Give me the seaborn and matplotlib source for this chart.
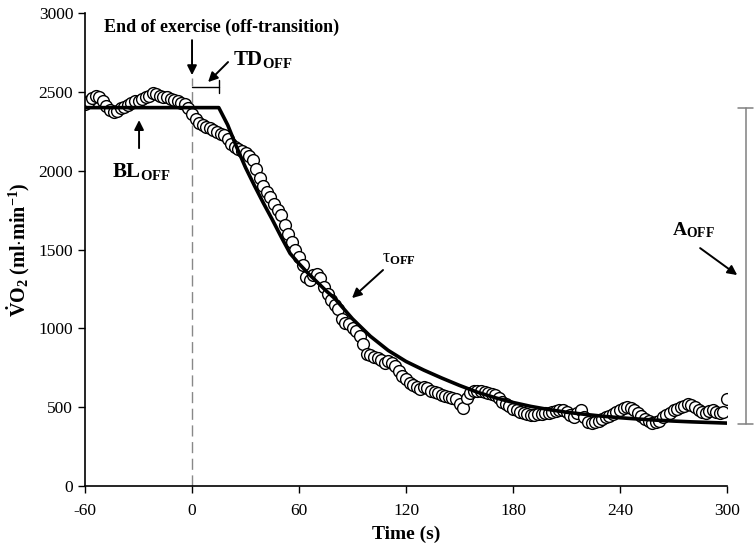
import numpy as np
import pandas as pd
import matplotlib
matplotlib.use('Agg')
import matplotlib.pyplot as plt
import seaborn as sns

# VO2 off-kinetics: breath values (every 2 s)
time_s = list(range(-60, 301, 2))
vo2 = [2425, 2440, 2460, 2475, 2465, 2440, 2410, 2385, 2375, 2380,
       2395, 2405, 2415, 2430, 2440, 2445, 2455, 2465, 2475, 2490,
       2485, 2475, 2470, 2465, 2455, 2450, 2440, 2430, 2420, 2395,
       2360, 2330, 2305, 2290, 2280, 2270, 2255, 2245, 2235, 2225,
       2200, 2170, 2150, 2140, 2125, 2110, 2095, 2070, 2010, 1955,
       1905, 1865, 1830, 1790, 1750, 1720, 1655, 1600, 1545, 1495,
       1455, 1405, 1325, 1305, 1340, 1345, 1320, 1260, 1215, 1180,
       1150, 1120, 1060, 1035, 1030, 1000, 985, 950, 900, 840,
       830, 820, 815, 800, 780, 790, 780, 760, 730, 700,
       680, 655, 640, 630, 615, 625, 620, 605, 595, 590,
       580, 570, 565, 560, 555, 520, 495, 560, 590, 605,
       605, 600, 595, 590, 585, 580, 560, 530, 520, 505,
       490, 480, 470, 460, 455, 450, 450, 455, 455, 460,
       465, 470, 475, 480, 485, 470, 450, 440, 460, 480,
       440, 405, 400, 405, 410, 425, 440, 445, 455, 470,
       485, 495, 500, 495, 480, 465, 445, 425, 410, 400,
       405, 415, 435, 450, 465, 480, 490, 500, 510, 520,
       515, 500, 485, 470, 465, 475, 480, 470, 460, 470,
       555]

# fitted model curve
fit_t = [-60, 15, 20, 25, 30, 35, 40, 45, 50, 55, 60, 65, 70, 75, 80, 90,
         100, 110, 120, 130, 140, 150, 160, 170, 180, 190, 200, 210, 220,
         230, 240, 250, 260, 270, 280, 290, 300]
fit_vo2 = [2400, 2400, 2290, 2150, 2020, 1905, 1795, 1690, 1580, 1475, 1410,
           1350, 1295, 1240, 1190, 1060, 950, 860, 790, 735, 685, 638, 595,
           560, 530, 505, 485, 468, 455, 443, 433, 425, 418, 412, 407, 403, 399]

df = pd.DataFrame({'t': time_s, 'vo2': vo2})
fit = pd.DataFrame({'t': fit_t, 'vo2': fit_vo2})

sns.set_style('ticks')
plt.rcParams['font.family'] = ['Liberation Serif', 'DejaVu Serif']
plt.rcParams['mathtext.fontset'] = 'custom'
plt.rcParams['mathtext.rm'] = 'Liberation Serif'
plt.rcParams['mathtext.it'] = 'Liberation Serif:italic'
plt.rcParams['mathtext.bf'] = 'Liberation Serif:bold'
plt.rcParams['axes.unicode_minus'] = False
for k in ['text.color', 'axes.labelcolor', 'xtick.color', 'ytick.color']:
    plt.rcParams[k] = 'black'

fig = plt.figure(figsize=(7.55, 5.54), dpi=100)
ax = fig.add_axes([0.1126, 0.1227, 0.8504, 0.8538])

ax.plot([0, 0], [0, 2590], color='#888888', lw=1, ls=(0, (8, 4)), zorder=1)
sns.scatterplot(data=df, x='t', y='vo2', ax=ax, marker='o', s=72,
                facecolor='white', edgecolor='black', linewidth=1, zorder=2)
sns.lineplot(data=fit, x='t', y='vo2', ax=ax, color='black', lw=2.6, zorder=3)

ax.set_xlim(-60, 300)
ax.set_ylim(0, 3000)
ax.set_xticks([-60, 0, 60, 120, 180, 240, 300])
ax.set_yticks(range(0, 3001, 500))
ax.tick_params(labelsize=12.5, length=5, width=1, colors='black', direction='out')
ax.tick_params(axis='x', pad=7)
for s in ['left', 'bottom']:
    ax.spines[s].set_color('black')
    ax.spines[s].set_linewidth(1.2)
sns.despine(ax=ax)

ax.set_xlabel('Time (s)', fontsize=14, fontweight='bold', labelpad=5)
ax.set_ylabel(r'$\mathbf{\dot{V}O_2\ (ml{\cdot}min^{-1})}$', fontsize=14.5, labelpad=5)

arrow = dict(arrowstyle='-|>', lw=1.4, color='black', mutation_scale=14, shrinkA=0, shrinkB=0)

ax.text(16.8, 2910, 'End of exercise (off-transition)', ha='center', va='center',
        fontsize=13, fontweight='bold')
ax.annotate('', xy=(0, 2606), xytext=(0, 2828), arrowprops=arrow, annotation_clip=False)

ax.text(23, 2670, r'$\mathbf{TD_{OFF}}$', ha='left', va='baseline', fontsize=15)
ax.annotate('', xy=(9, 2562), xytext=(20.2, 2689), arrowprops=arrow)
ax.plot([0, 15], [2530, 2530], color='black', lw=1)
ax.plot([15, 15], [2492, 2575], color='black', lw=1)

ax.text(-44.9, 1960, r'$\mathbf{BL_{OFF}}$', ha='left', va='baseline', fontsize=15)
ax.annotate('', xy=(-29.7, 2321), xytext=(-29.7, 2143), arrowprops=arrow)

ax.text(106.6, 1420, r'$\mathrm{\tau}_{\mathbf{OFF}}$', ha='left', va='baseline', fontsize=13)
ax.annotate('', xy=(89.7, 1192), xytext=(107.1, 1370), arrowprops=arrow)

ax.text(269.2, 1592, r'$\mathbf{A_{OFF}}$', ha='left', va='baseline', fontsize=14)
ax.annotate('', xy=(305.7, 1338), xytext=(284.9, 1509), arrowprops=arrow,
            annotation_clip=False)

# amplitude bracket outside the axes
gray = '#808080'
ax.plot([310.7, 310.7], [393, 2400], color=gray, lw=1.1, clip_on=False)
ax.plot([306, 314.5], [393, 393], color=gray, lw=1.1, clip_on=False)
ax.plot([306, 314.5], [2400, 2400], color=gray, lw=1.1, clip_on=False)

plt.savefig('out.png', dpi=100)
